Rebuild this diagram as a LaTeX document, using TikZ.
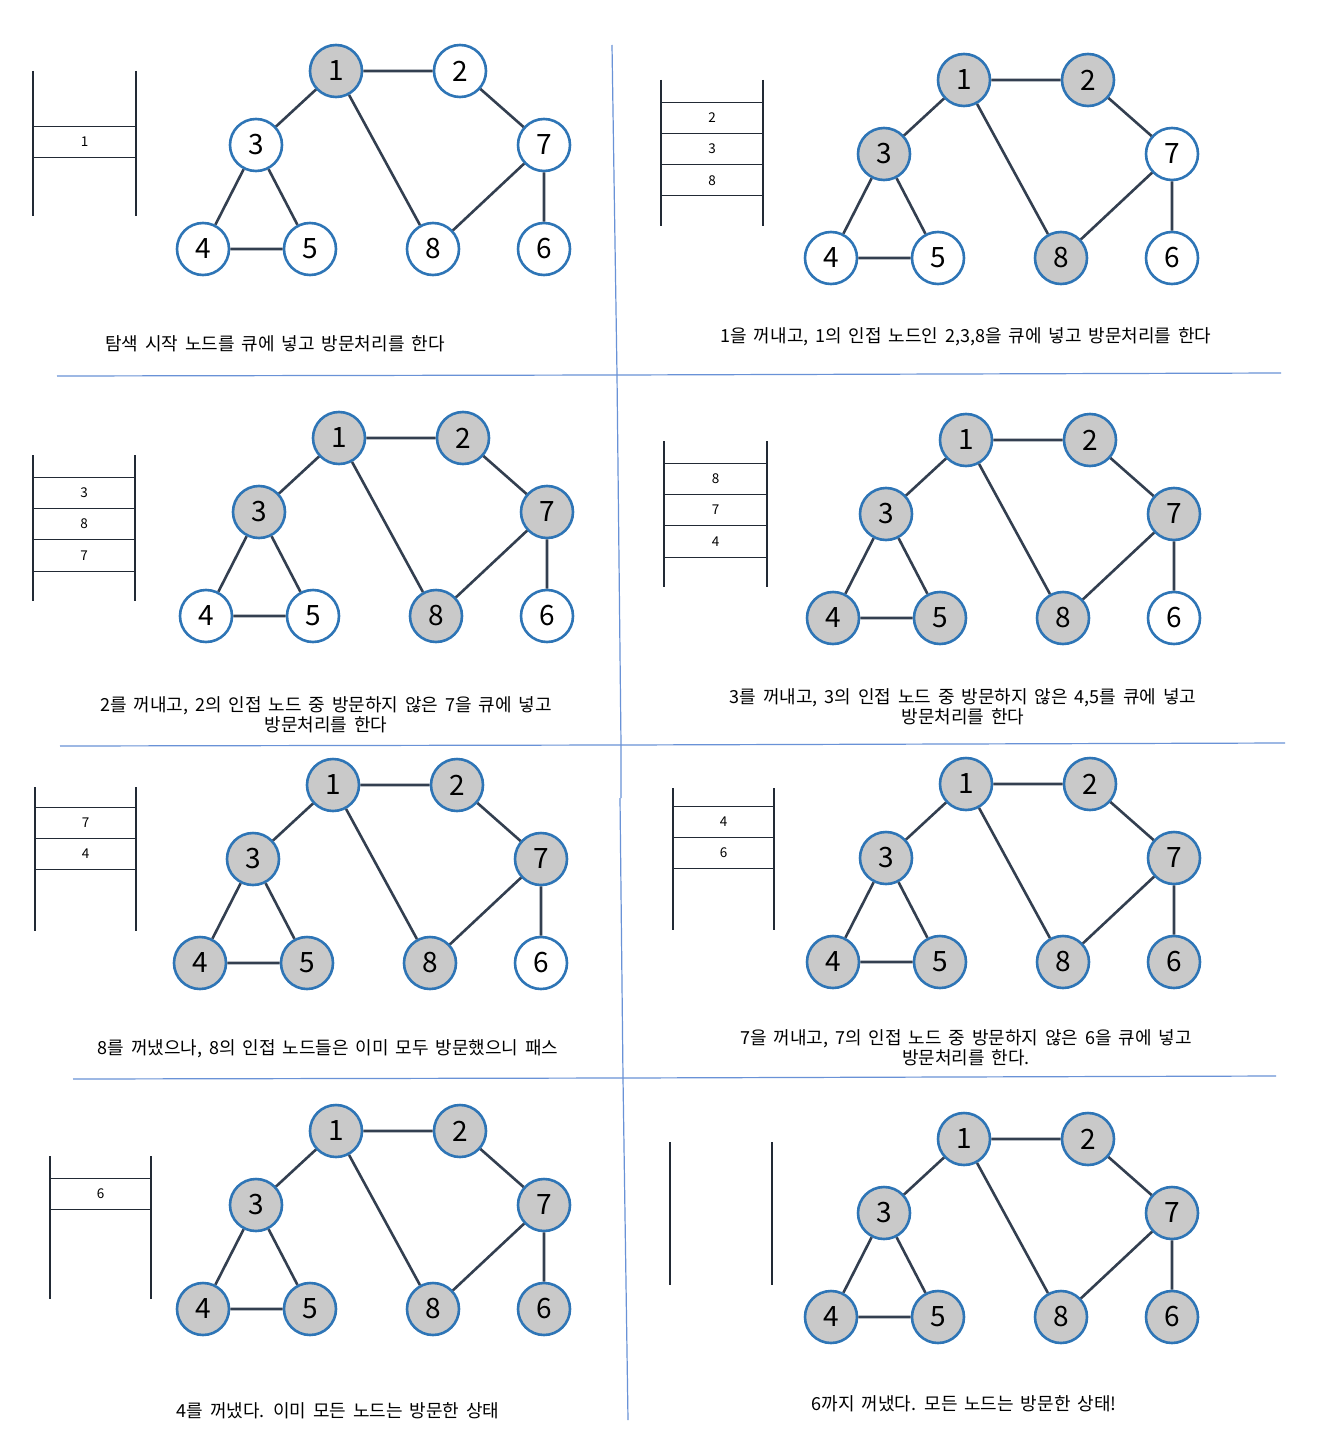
\documentclass[tikz,border=0pt]{standalone}
\usepackage{fontspec}
\setmainfont{Noto Sans CJK KR}
\newfontfamily\capfont{Noto Sans CJK KR}[WordSpace=1.7]
\definecolor{nodeblue}{HTML}{2E75B6}
\definecolor{visgray}{HTML}{C9C9C9}
\definecolor{edgecol}{HTML}{333F50}
\definecolor{divblue}{HTML}{4F7FD0}
\definecolor{qcol}{HTML}{222A35}
\tikzset{
  gnode/.style={circle, draw=nodeblue, line width=2.6pt, minimum size=52pt, inner sep=0pt, font=\fontsize{28}{28}\selectfont},
  gedge/.style={draw=edgecol, line width=2.6pt},
  qwall/.style={draw=qcol, line width=2.6pt},
  qline/.style={draw=qcol, line width=0.8pt},
  qtext/.style={font=\fontsize{13.5}{14}\selectfont, inner sep=0pt},
  captext/.style={font=\capfont\fontsize{18}{20}\selectfont, align=center, inner sep=0pt},
  divider/.style={draw=divblue!85, line width=1.2pt},
}
\makeatletter
\newcommand\bfsgraph[4]{%
  \begin{scope}[shift={(#2,#3)}]
  \foreach \n/\x/\y in {1/336/71,2/460/71,3/256/145,7/544/145,4/203/249,5/310/249,8/433/249,6/544/249}{%
    \edef\tmp{\noexpand\in@{,\n,}{,#4,}}\tmp
    \ifin@ \node[gnode,fill=visgray] (#1-\n) at (\x,\y) {\n};
    \else \node[gnode,fill=white] (#1-\n) at (\x,\y) {\n};\fi
  }
  \draw[gedge] (#1-1)--(#1-2) (#1-1)--(#1-3) (#1-1)--(#1-8) (#1-2)--(#1-7)
    (#1-3)--(#1-4) (#1-3)--(#1-5) (#1-4)--(#1-5) (#1-7)--(#1-8) (#1-7)--(#1-6);
  \end{scope}}
\makeatother
\newcommand\queue[7]{%
  \draw[qwall] (#2,#4)--(#2,#5) (#3,#4)--(#3,#5);
  \draw[qline] (#2,#6)--(#3,#6);
  \foreach \qi [count=\qk] in {#7}{%
    \draw[qline] ({#2},{#6+31.3*\qk}) -- ({#3},{#6+31.3*\qk});
    \node[qtext] (#1-\qk) at ({(#2+#3)/2},{#6+31.3*\qk-15.65}) {\qi};
  }}
\begin{document}
\begin{tikzpicture}[x=1pt,y=-1pt]
\fill[white] (0,0) rectangle (1326,1450);
\useasboundingbox (0,0) rectangle (1326,1450);
% dividers
\draw[divider] (612,45)--(617,375)--(621,745)--(621,798);
\draw[divider] (620,798)--(623,1078)--(628,1420);
\draw[divider] (57,376)--(617,375)--(1281,373);
\draw[divider] (60,746)--(621,745)--(1285,743);
\draw[divider] (73,1079)--(624,1078)--(1276,1076);
% graphs
\bfsgraph{a}{0}{0}{1}
\bfsgraph{b}{628}{9}{1,2,3,8}
\bfsgraph{c}{3}{367}{1,2,3,8,7}
\bfsgraph{d}{630}{369}{1,2,3,8,7,4,5}
\bfsgraph{e}{-3}{714}{1,2,3,8,7,4,5}
\bfsgraph{f}{630}{713}{1,2,3,4,5,6,7,8}
\bfsgraph{g}{0}{1060}{1,2,3,4,5,6,7,8}
\bfsgraph{h}{628}{1068}{1,2,3,4,5,6,7,8}
% queues
\queue{qa}{33}{136}{71}{216}{126}{1}
\queue{qb}{661}{763}{80}{226}{102}{2,3,8}
\queue{qc}{33}{135}{455}{601}{477}{3,8,7}
\queue{qd}{664}{767}{441}{587}{463}{8,7,4}
\queue{qe}{35}{136}{787}{931}{807}{7,4}
\queue{qf}{673}{774}{788}{930}{806}{4,6}
\queue{qg}{50}{151}{1156}{1299}{1178}{6}
\draw[qwall] (670,1142)--(670,1285) (772,1142)--(772,1285);
% captions
\node[captext] (ca) at (275,344) {탐색 시작 노드를 큐에 넣고 방문처리를 한다};
\node[captext] (cb) at (966,337) {1을 꺼내고, 1의 인접 노드인 2,3,8을 큐에 넣고 방문처리를 한다};
\node[captext] (cc) at (326,715) {2를 꺼내고, 2의 인접 노드 중 방문하지 않은 7을 큐에 넣고\\방문처리를 한다};
\node[captext] (cd) at (963,707) {3를 꺼내고, 3의 인접 노드 중 방문하지 않은 4,5를 큐에 넣고\\방문처리를 한다};
\node[captext] (ce) at (328,1049) {8를 꺼냈으나, 8의 인접 노드들은 이미 모두 방문했으니 패스};
\node[captext] (cf) at (966,1048) {7을 꺼내고, 7의 인접 노드 중 방문하지 않은 6을 큐에 넣고\\방문처리를 한다.};
\node[captext] (cg) at (338,1411) {4를 꺼냈다. 이미 모든 노드는 방문한 상태};
\node[captext] (ch) at (964,1404) {6까지 꺼냈다. 모든 노드는 방문한 상태!};
\end{tikzpicture}
\end{document}
